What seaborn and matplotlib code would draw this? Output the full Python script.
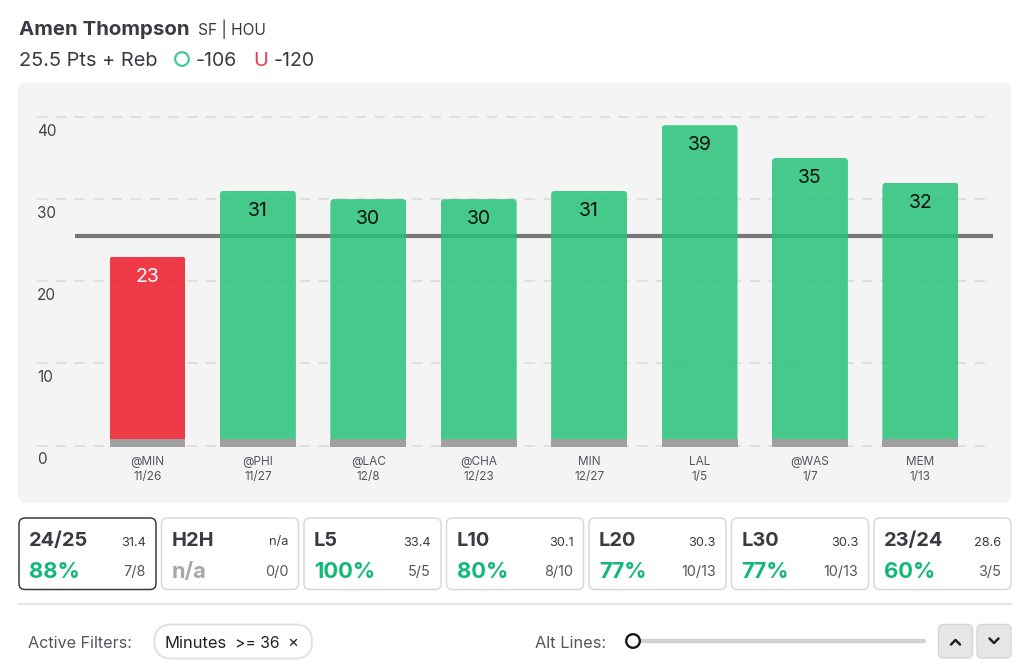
#!/usr/bin/env python3
import matplotlib
matplotlib.use('Agg')
import matplotlib.pyplot as plt
import pandas as pd
import seaborn as sns
from matplotlib.patches import FancyBboxPatch, Circle
from matplotlib.transforms import ScaledTranslation

# Chart data
games = ['@MIN\n11/26', '@PHI\n11/27', '@LAC\n12/8', '@CHA\n12/23', 'MIN\n12/27', 'LAL\n1/5', '@WAS\n1/7', 'MEM\n1/13']
values = [23, 31, 30, 30, 31, 39, 35, 32]
base_values = [0.8, 0.8, 0.8, 0.8, 0.8, 0.8, 0.8, 0.8]
prop_line = 25.5
y_ticks = [0, 10, 20, 30, 40]

# Split cards below the chart
card_names = ['24/25', 'H2H', 'L5', 'L10', 'L20', 'L30', '23/24']
card_avgs = ['31.4', 'n/a', '33.4', '30.1', '30.3', '30.3', '28.6']
card_pcts = ['88%', 'n/a', '100%', '80%', '77%', '77%', '60%']
card_fracs = ['7/8', '0/0', '5/5', '8/10', '10/13', '10/13', '3/5']

GREEN = '#25C278'
RED = '#EF1727'
PCT_GREEN = '#12B877'
DARK = '#3A3A42'
W, H = 1024, 667

sns.set_style('white')
plt.rcParams['font.family'] = ['Inter', 'DejaVu Sans']

fig = plt.figure(figsize=(W / 100, H / 100), dpi=100, facecolor='white')

# Page layer in pixel coords for the header, the panel and the controls
ui = fig.add_axes([0, 0, 1, 1], zorder=0)
ui.set_xlim(0, W)
ui.set_ylim(H, 0)
ui.axis('off')


def box(x0, y0, x1, y1, r, fc, ec='none', lw=1.0):
    ui.add_patch(FancyBboxPatch((x0, y0), x1 - x0, y1 - y0,
                                boxstyle=f'round,pad=0,rounding_size={r}',
                                fc=fc, ec=ec, lw=lw))


# Header
ui.text(19, 30, 'Amen Thompson', fontsize=14.7, fontweight='bold', color=DARK, va='center')
ui.text(198, 29.5, 'SF | HOU', fontsize=11.2, color=DARK, va='center')
ui.text(19, 61, '25.5 Pts + Reb', fontsize=14.4, color=DARK, va='center')
ui.add_patch(Circle((182, 59), 6.8, fc='none', ec='#3CC98A', lw=1.5))
ui.text(196, 61, '-106', fontsize=14, color=DARK, va='center')
ui.text(261, 61, 'U', fontsize=14.4, color='#EF3A4A', va='center', ha='center')
ui.text(274, 61, '-120', fontsize=14, color=DARK, va='center')

# Chart panel
box(18, 82, 1011, 503, 8, '#F4F4F4')

# Split cards
for i, name in enumerate(card_names):
    x0 = 19 + i * 142.5
    x1 = x0 + 137
    active = i == 0
    box(x0, 518, x1, 589.5, 6, 'white', DARK if active else '#D8D8D8', 1.1)
    ui.text(x0 + 10, 541, name, fontsize=14.4, fontweight='bold', color=DARK, va='center')
    ui.text(x1 - 10, 542.5, card_avgs[i], fontsize=9.2, color=DARK, va='center', ha='right')
    pct_col = '#A8A8A8' if card_pcts[i] == 'n/a' else PCT_GREEN
    ui.text(x0 + 10, 572, card_pcts[i], fontsize=15.8, fontweight='bold', color=pct_col, va='center')
    ui.text(x1 - 10, 572, card_fracs[i], fontsize=10.4, color='#55555C', va='center', ha='right')

ui.plot([18, 1011], [604, 604], color='#E6E6E6', lw=1.4)

# Filters row
ui.text(28, 643, 'Active Filters:', fontsize=11.6, color='#55555C', va='center')
box(154.5, 624.5, 312, 658.5, 17, 'white', '#E2E2E2', 1.5)
ui.text(165, 643, 'Minutes', fontsize=11.9, color='#222226', va='center')
ui.text(235, 643, '>= 36', fontsize=11.3, color='#222226', va='center')
ui.text(293, 642, '×', fontsize=12, color='#222226', va='center', ha='center')
ui.text(535, 643, 'Alt Lines:', fontsize=11.8, color='#55555C', va='center')

# Alt line slider
ui.plot([636, 924], [641, 641], color='#D2D2D4', lw=3.2, solid_capstyle='round')
ui.add_patch(Circle((633, 641), 6.8, fc='white', ec='#18181B', lw=1.7, zorder=3))

# Up and down buttons
box(938.5, 624.5, 972.5, 658, 5, '#E6E6E6', '#D6D6D6', 1.0)
box(977, 624.5, 1011, 658, 5, '#E6E6E6', '#D6D6D6', 1.0)
ui.plot([951, 955.5, 960], [644.5, 640, 644.5], color='#222226', lw=1.8)
ui.plot([989.5, 994, 998.5], [638.5, 643, 638.5], color='#222226', lw=1.8)

# Chart axes: x runs 37..993 px, y bottom is 446.6 px, top is 104.6 px
ax = fig.add_axes([37 / W, 1 - 446.6 / H, (993 - 37) / W, 342 / H], zorder=1)
ax.patch.set_alpha(0)

df = pd.DataFrame({'game': games, 'value': values, 'base': base_values})
df['side'] = ['over' if v > prop_line else 'under' for v in values]

ax.axhline(prop_line, xmin=(75 - 37) / (993 - 37), color='#77777A', lw=3, zorder=2, solid_capstyle='butt')
for t in y_ticks:
    ax.axhline(t, color='#DFDFDF', lw=1.5, dashes=(5, 4), zorder=1)

sns.barplot(data=df, x='game', y='value', hue='side', dodge=False, legend=False,
            palette={'over': GREEN, 'under': RED}, order=games, width=0.688,
            alpha=0.84, linewidth=0, saturation=1, ax=ax, zorder=3)

# Round off the bar tops: clip each bar to a rounded box
for bar in ax.patches:
    if bar.get_height() <= 0:
        continue
    clip = FancyBboxPatch((bar.get_x(), bar.get_y() - 1), bar.get_width(), bar.get_height() + 1,
                          boxstyle='round,pad=0,rounding_size=0.035', mutation_aspect=13.4,
                          transform=ax.transData, fc='none', ec='none')
    bar.set_clip_path(clip)

# Grey strip along the foot of each bar
sns.barplot(data=df, x='game', y='base', color='#A0A0A0', order=games, width=0.688,
            linewidth=0, saturation=1, ax=ax, zorder=4)
for bar in ax.patches:
    if bar.get_height() == base_values[0]:
        bar.set_y(-0.12)
        bar.set_height(base_values[0] + 0.12)

# Value labels inside the bars
for i, v in enumerate(values):
    ax.annotate(str(v), (i, v), xytext=(0, -20), textcoords='offset pixels', ha='center', va='center',
                fontsize=14, color='white' if v < prop_line else '#111111', zorder=6)

ax.set_xlim(-1.0009, 7.658)
ax.set_ylim(-0.12, 41.5)

for side in ax.spines.values():
    side.set_visible(False)
ax.set_xlabel('')
ax.set_ylabel('')
ax.set_yticks(y_ticks)
ax.set_yticklabels([str(t) for t in y_ticks])
ax.tick_params(axis='x', length=0, pad=7, labelsize=8.5, labelcolor='#55555C')
ax.tick_params(axis='y', length=0, pad=0, labelsize=11, labelcolor='#44444A')
for lbl in ax.get_xticklabels():
    lbl.set_linespacing(1.3)
shift = ScaledTranslation(0, -12.8 / 100, fig.dpi_scale_trans)
for lbl in ax.get_yticklabels():
    lbl.set_ha('left')
    lbl.set_transform(lbl.get_transform() + shift)

fig.savefig('out.png', dpi=100)
